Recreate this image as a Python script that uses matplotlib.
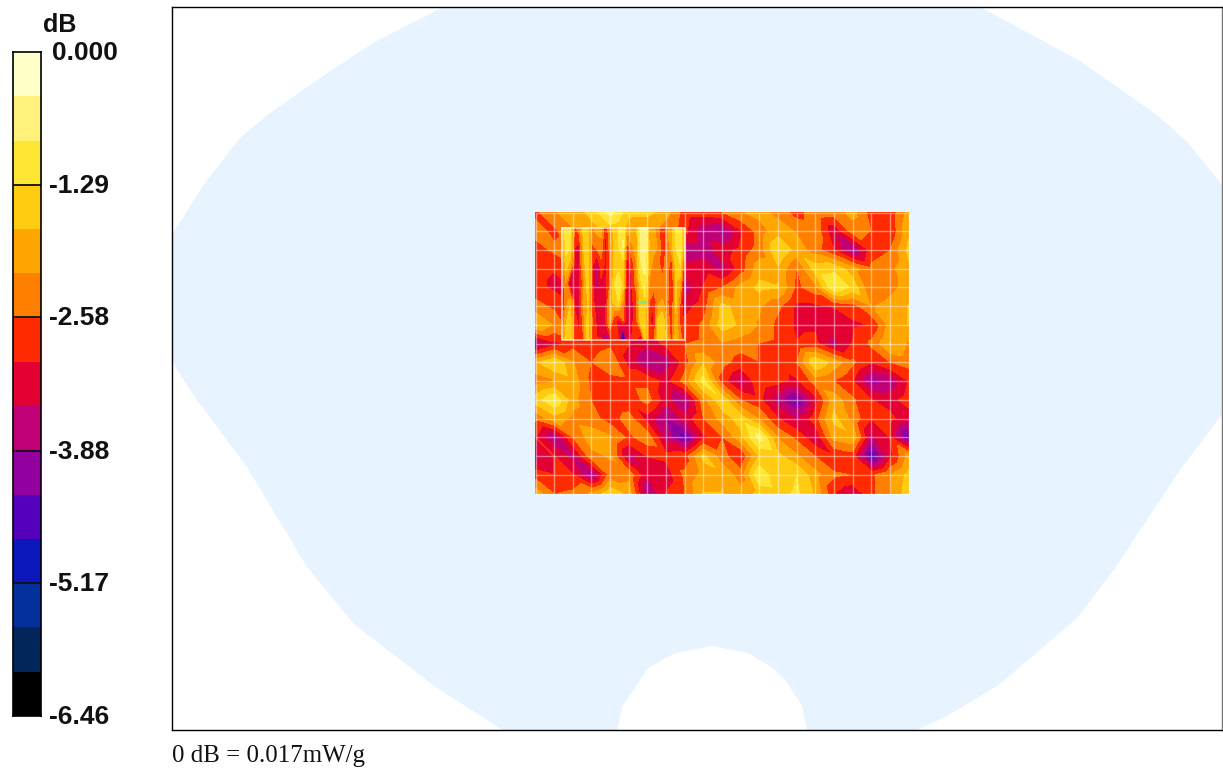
import numpy as np
import matplotlib
matplotlib.use("Agg")
import matplotlib.pyplot as plt
import matplotlib.tri as mtri
from matplotlib.colors import ListedColormap, BoundaryNorm
from matplotlib.patches import Polygon

W, H = 1223, 768

# colour bar, from -6.46 dB up to 0 dB
band_colors = ["#000000", "#02265A", "#03309A", "#0B16BB", "#5500BB", "#9200A0", "#C00077", "#E30033",
               "#FF2B00", "#FF7F00", "#FFA600", "#FFCC11", "#FFE635", "#FFF27A", "#FFFFC8"]
tick_values = [0, -1.29, -2.58, -3.88, -5.17, -6.46]
tick_labels = ["0.000", "-1.29", "-2.58", "-3.88", "-5.17", "-6.46"]

# phantom outline, picture coordinates
outline_x = [443, 373, 320, 270, 240, 205, 173, 172, 172, 177, 197, 247, 307, 355, 437, 503,
             617, 622, 648, 675, 712, 748, 773, 785, 802, 807,
             917, 947, 1000, 1077, 1113, 1180, 1223, 1223, 1187, 1157, 1080, 980]
outline_y = [7, 43, 78, 113, 138, 183, 233, 240, 360, 370, 400, 467, 567, 625, 688, 730,
             730, 707, 668, 653, 646, 653, 668, 680, 705, 730,
             730, 716, 684, 618, 571, 470, 413, 186, 142, 115, 61, 7]

# coarse scan, dB
coarse_scan = [
    [-2.7, -2.2, -2.0, -1.6, -0.7, -1.6, -1.6, -2.0, -2.8, -2.8, -2.6, -2.2, -2.0, -2.3, -2.8, -2.3, -2.4, -2.0, -2.8, -2.9, -2.0],
    [-2.4, -2.7, -2.2, -1.9, -1.6, -2.0, -2.2, -2.4, -2.9, -3.7, -4.0, -3.1, -2.4, -1.9, -2.2, -2.3, -3.4, -2.4, -2.6, -3.0, -1.8],
    [-2.8, -2.5, -2.3, -2.1, -2.0, -2.2, -2.4, -2.7, -3.8, -3.7, -3.2, -2.9, -2.4, -1.3, -1.9, -2.4, -3.0, -4.0, -2.8, -2.6, -1.6],
    [-2.9, -3.0, -2.7, -2.8, -2.9, -2.9, -2.8, -3.0, -3.3, -3.2, -3.6, -2.8, -1.9, -1.8, -2.6, -1.5, -1.4, -2.0, -2.5, -2.3, -1.8],
    [-2.9, -3.1, -3.0, -3.0, -3.0, -3.0, -3.2, -3.6, -3.7, -3.0, -2.6, -2.0, -1.6, -1.7, -2.7, -2.3, -0.9, -1.4, -2.6, -2.3, -2.0],
    [-2.4, -2.7, -3.0, -3.0, -3.1, -3.2, -3.1, -3.2, -3.2, -2.8, -1.6, -1.9, -2.1, -2.5, -3.1, -3.1, -3.0, -2.8, -2.2, -2.0, -1.7],
    [-1.7, -2.2, -3.0, -3.1, -3.1, -3.1, -2.9, -2.9, -2.9, -2.5, -1.5, -1.8, -2.2, -2.7, -3.1, -3.1, -3.2, -3.1, -3.0, -2.0, -1.7],
    [-3.8, -3.2, -2.8, -2.9, -2.7, -3.0, -3.3, -2.9, -2.6, -2.5, -2.2, -2.4, -2.6, -2.7, -3.0, -2.9, -3.6, -3.0, -2.5, -1.7, -2.2],
    [-1.8, -1.3, -2.1, -2.6, -2.2, -3.2, -3.9, -3.7, -2.8, -1.8, -2.4, -2.8, -2.6, -2.9, -2.6, -1.3, -1.9, -2.5, -3.0, -2.6, -2.4],
    [-2.4, -2.2, -1.9, -2.7, -2.8, -2.7, -2.7, -3.2, -2.4, -1.1, -2.8, -3.6, -2.7, -2.9, -3.1, -2.4, -2.6, -3.0, -4.0, -3.8, -3.0],
    [-1.5, -0.9, -2.0, -2.6, -3.0, -2.9, -2.4, -3.3, -3.9, -2.3, -1.4, -2.6, -2.9, -3.7, -4.4, -3.2, -1.9, -2.5, -3.0, -3.2, -2.8],
    [-2.5, -1.9, -2.3, -2.4, -2.8, -2.4, -3.2, -3.9, -3.3, -2.6, -2.0, -1.5, -2.2, -3.0, -3.5, -2.8, -1.6, -2.3, -3.0, -2.9, -3.3],
    [-3.0, -3.9, -2.6, -1.9, -2.1, -2.7, -2.3, -3.6, -4.5, -3.1, -2.6, -1.9, -0.7, -2.2, -2.7, -3.4, -2.0, -1.8, -3.6, -3.0, -4.5],
    [-3.6, -3.0, -3.6, -2.3, -2.1, -3.6, -3.0, -2.9, -2.8, -1.6, -2.4, -3.0, -1.7, -1.6, -2.1, -2.6, -3.0, -2.8, -4.7, -3.2, -2.0],
    [-2.8, -3.0, -3.0, -4.0, -2.4, -2.3, -3.4, -3.3, -2.5, -2.0, -1.8, -2.4, -0.9, -1.7, -1.3, -2.0, -2.5, -2.6, -2.7, -2.2, -1.6],
    [-1.9, -2.6, -2.5, -2.1, -1.4, -1.9, -3.9, -3.0, -2.6, -1.7, -1.7, -2.0, -1.6, -1.5, -1.2, -1.8, -3.0, -3.4, -2.7, -2.2, -1.5],
]

# zoom scan, dB
zoom_scan = [
    [-2.0, -1.0, -1.3, -2.7, -2.3, -1.6, -1.7, -2.2, -2.0, -2.1, -3.0, -2.2, -1.5, -1.3, -1.0, -2.0, -1.9, -1.9, -0.7, -0.5, -1.9, -2.1, -2.4, -3.0, -2.4, -1.8, -1.3, -1.0, -1.8],
    [-2.4, -1.1, -1.2, -3.0, -3.1, -1.7, -1.5, -2.7, -2.4, -2.2, -3.2, -2.4, -1.6, -1.3, -0.8, -2.8, -2.2, -2.0, -0.8, -0.5, -1.8, -2.0, -2.2, -3.0, -2.4, -1.9, -1.3, -1.0, -2.0],
    [-2.8, -1.5, -2.0, -3.1, -3.1, -1.9, -1.4, -2.9, -3.6, -2.8, -3.1, -2.6, -1.6, -1.5, -1.5, -3.3, -2.9, -2.2, -0.9, -0.7, -2.0, -2.3, -2.4, -2.9, -2.2, -3.0, -1.5, -1.3, -2.9],
    [-3.0, -2.2, -3.6, -3.1, -3.1, -2.4, -1.4, -2.9, -3.7, -3.1, -3.1, -2.6, -1.3, -0.9, -1.5, -3.6, -3.0, -2.4, -1.4, -1.0, -2.2, -2.3, -2.2, -2.4, -2.2, -3.2, -1.7, -2.0, -3.6],
    [-3.1, -2.4, -1.8, -3.1, -3.1, -2.0, -1.7, -2.9, -3.2, -3.4, -3.2, -2.0, -1.6, -1.3, -2.2, -3.6, -3.1, -2.8, -1.5, -1.4, -2.6, -3.0, -2.2, -2.1, -2.4, -3.2, -1.6, -2.6, -3.7],
    [-3.0, -1.8, -1.4, -2.9, -3.1, -2.4, -1.5, -2.6, -3.1, -3.2, -3.0, -2.0, -2.9, -3.2, -2.6, -3.4, -3.1, -2.8, -1.4, -1.5, -3.0, -3.1, -1.6, -1.4, -2.2, -2.9, -1.8, -2.7, -3.1],
    [-2.4, -1.5, -1.4, -3.0, -3.0, -2.6, -1.3, -2.9, -3.0, -3.0, -4.0, -3.2, -3.0, -3.0, -6.0, -3.1, -3.0, -2.8, -3.8, -1.6, -2.9, -2.9, -1.4, -1.3, -1.9, -2.8, -1.7, -2.4, -2.8],
]

levels = np.linspace(-6.46, 0, 16)
cmap = ListedColormap(band_colors)
norm = BoundaryNorm(levels, cmap.N)

fig = plt.figure(figsize=(W / 100, H / 100), dpi=100)

# main axes use picture pixels as data units
ax = fig.add_axes([172 / W, 1 - 730 / H, 1050 / W, 723 / H])
ax.set_xlim(172, 1222)
ax.set_ylim(730, 7)
ax.set_xticks([])
ax.set_yticks([])
for s in ax.spines.values():
    s.set_linewidth(1.0)
ax.spines["right"].set_color("#777777")

ax.add_patch(Polygon(np.column_stack([outline_x, outline_y]), closed=True, fc="#E7F3FE", ec="none", zorder=1))

# coarse area, cells split along the falling diagonal so the bands stay joined up
cx = np.linspace(535.5, 908.5, 21)
cy = np.linspace(212.5, 493.5, 16)
gx, gy = np.meshgrid(cx, cy)
nr, nc = gx.shape
tris = []
for r in range(nr - 1):
    for c in range(nc - 1):
        a = r * nc + c
        tris.append([a, a + 1, a + nc + 1])
        tris.append([a, a + nc + 1, a + nc])
tri = mtri.Triangulation(gx.ravel(), gy.ravel(), tris)
ax.tricontourf(tri, np.array(coarse_scan).ravel(), levels=levels, colors=band_colors, zorder=2)

# zoom area
zx = np.linspace(561.5, 684.5, 29)
zy = np.linspace(227.5, 339.5, 7)
ax.contourf(zx, zy, np.array(zoom_scan), levels=levels, colors=band_colors, zorder=3)

ax.vlines(cx, cy[0], cy[-1], color="white", lw=1.0, alpha=0.45, zorder=4)
ax.hlines(cy, cx[0], cx[-1], color="white", lw=1.0, alpha=0.45, zorder=4)
ax.plot([561.5, 684.5, 684.5, 561.5, 561.5], [227.5, 227.5, 339.5, 339.5, 227.5], color="white", lw=1.1, alpha=0.8, zorder=5)
ax.plot([637, 647], [302, 302], color="#7FE87F", lw=2.2, solid_capstyle="butt", zorder=6)

# colour bar
cb = fig.add_axes([13 / W, 1 - 716 / H, 28 / W, 664 / H])
cb.pcolormesh([0, 1], levels, np.arange(15).reshape(-1, 1), cmap=cmap, shading="flat")
cb.hlines(tick_values[1:-1], 0, 1, color="#111111", lw=1.3)
cb.set_xlim(0, 1)
cb.set_ylim(-6.46, 0)
cb.set_xticks([])
cb.set_yticks([])
for v, lab in zip(tick_values, tick_labels):
    dx = 11 if lab == "0.000" else 8
    cb.annotate(lab, (1, v), xycoords=cb.get_yaxis_transform(), xytext=(dx, -1), textcoords="offset pixels",
                family="Liberation Sans", fontsize=19, fontweight="bold", color="#111111", ha="left", va="center",
                annotation_clip=False)
for s in cb.spines.values():
    s.set_linewidth(1.2)

fig.text(60 / W, 1 - 25 / H, "dB", family="Liberation Sans", fontsize=18, fontweight="bold",
         ha="center", va="center", color="#111111")
fig.text(172 / W, 1 - 762 / H, "0 dB = 0.017mW/g", family="Liberation Serif", fontsize=17.95,
         ha="left", va="baseline", color="#111111")

fig.savefig("out.png", dpi=100)
